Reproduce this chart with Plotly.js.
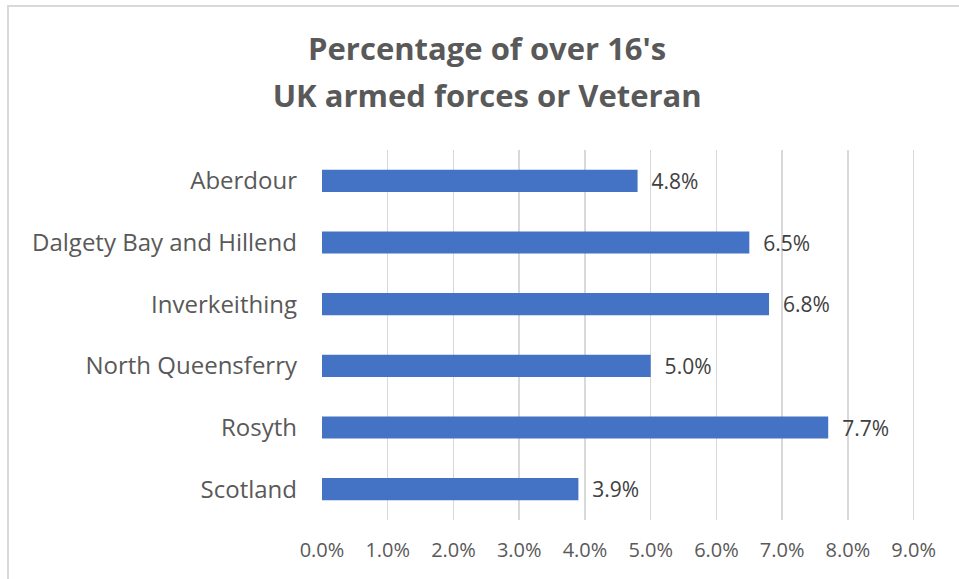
<!DOCTYPE html>
<html>
<head>
<meta charset="utf-8">
<script src="https://cdn.plot.ly/plotly-3.0.1.min.js"></script>
<style>
html,body{margin:0;padding:0;background:#fff;}
#wrap{position:absolute;left:0;top:0;width:959px;height:579px;}
#frame{position:absolute;left:7px;top:5px;width:960px;height:590px;border-left:2px solid #d9d9d9;border-top:2px solid #d9d9d9;pointer-events:none;}
#chart{position:absolute;left:0;top:0;width:959px;height:579px;}
</style>
</head>
<body>
<div id="wrap"><div id="chart"></div><div id="frame"></div></div>
<script>
const categories = ["Aberdour", "Dalgety Bay and Hillend", "Inverkeithing", "North Queensferry", "Rosyth", "Scotland"];
const values = [4.8, 6.5, 6.8, 5.0, 7.7, 3.9];
const tickVals = [0, 1, 2, 3, 4, 5, 6, 7, 8, 9];
const tickText = ["0.0%", "1.0%", "2.0%", "3.0%", "4.0%", "5.0%", "6.0%", "7.0%", "8.0%", "9.0%"];
const labels = values.map(v => "  " + v.toFixed(1) + "%");

const fontFam = "'Open Sans', Lato, sans-serif";
const trace = {
  type: "bar",
  orientation: "h",
  y: categories,
  x: values,
  text: labels,
  textposition: "outside",
  constraintext: "none",
  cliponaxis: false,
  textfont: {family: fontFam, size: 21, color: "#404040"},
  marker: {color: "#4472C4", line: {width: 0}},
  hoverinfo: "skip"
};
const layout = {
  width: 959, height: 579,
  margin: {l: 322, r: 44, t: 150, b: 59},
  paper_bgcolor: "#fff", plot_bgcolor: "#fff",
  bargap: 0.64,
  showlegend: false,
  title: {
    text: "Percentage of over 16's<br>UK armed forces or Veteran",
    font: {family: fontFam, size: 31, color: "#595959", weight: "bold"},
    x: 0.508, xanchor: "center",
    y: 1 - 60/579, yanchor: "top", yref: "container"
  },
  xaxis: {
    range: [0, 9.02],
    tickvals: tickVals, ticktext: tickText,
    showgrid: true, gridcolor: "#d9d9d9", gridwidth: 1.5,
    zeroline: false, showline: false,
    ticks: "", ticklabelstandoff: 16,
    tickfont: {family: fontFam, size: 20, color: "#595959"},
    fixedrange: true
  },
  yaxis: {
    autorange: "reversed",
    showgrid: false, zeroline: false, showline: false,
    ticks: "", ticklabelstandoff: 24,
    tickfont: {family: fontFam, size: 24, color: "#595959"},
    fixedrange: true
  }
};
Plotly.newPlot("chart", [trace], layout, {displayModeBar: false, staticPlot: true}).then(function (gd) {
  // widen the spacing between the two title lines to match the reference
  const lines = gd.querySelectorAll(".gtitle tspan.line");
  for (let i = 1; i < lines.length; i++) {
    lines[i].setAttribute("dy", "1.52em");
  }
});
</script>
</body>
</html>
